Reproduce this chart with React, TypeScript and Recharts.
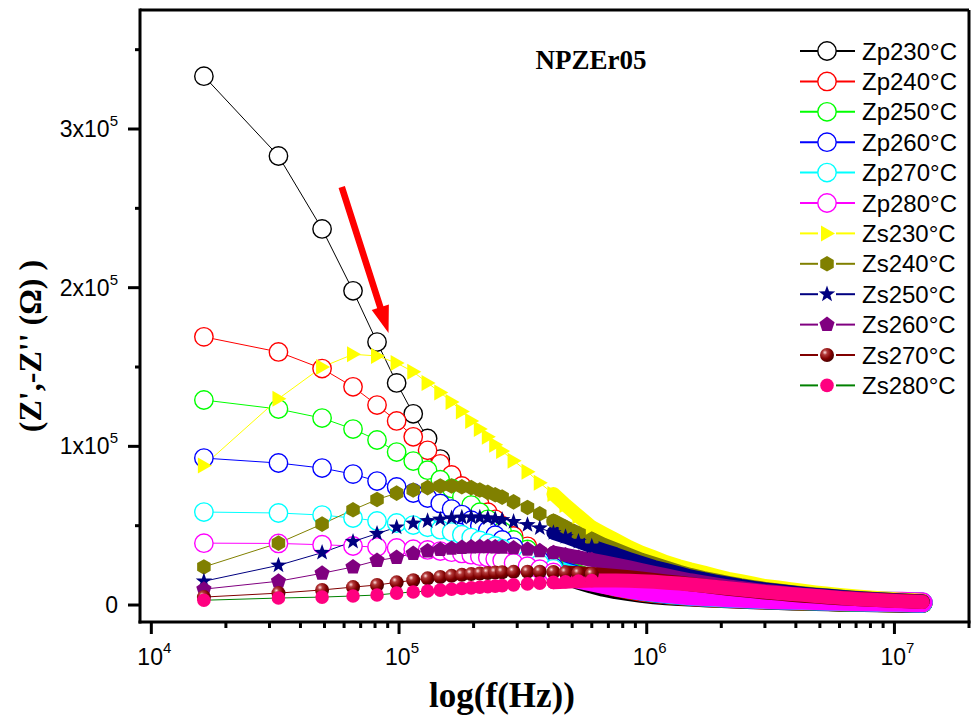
import React from "react";
import { LineChart, Line, XAxis, YAxis, ReferenceLine, Customized } from "recharts";

// frequency (Hz) and impedance values in units of 1e5 Ohm
const FREQ = [
  16300, 32600, 48900, 65200, 81500, 97800, 114100, 130400, 146700, 163000, 179300, 195600, 211900, 228200, 244500, 260800,
  290000, 330000, 370000, 420000, 470000, 530000, 600000, 670000, 750000, 850000, 950000,
  1.07e6, 1.2e6, 1.35e6, 1.5e6, 1.7e6, 1.9e6, 2.13e6, 2.4e6, 2.7e6, 3.0e6, 3.4e6, 3.8e6, 4.25e6, 4.8e6, 5.4e6, 6.0e6, 6.7e6, 7.5e6, 8.5e6, 9.5e6,
  1.07e7, 1.2e7, 1.3e7,
];

const ZP230 = [
  3.333, 2.83, 2.37, 1.98, 1.657, 1.4, 1.205, 1.05, 0.92, 0.81, 0.72, 0.64, 0.575, 0.52, 0.47, 0.43,
  0.37, 0.31, 0.265, 0.22, 0.19, 0.16, 0.135, 0.115, 0.1, 0.087, 0.077,
  0.068, 0.062, 0.057, 0.053, 0.049, 0.045, 0.042, 0.039, 0.036, 0.034, 0.031, 0.029, 0.027, 0.025, 0.023, 0.021, 0.02, 0.019, 0.017, 0.016,
  0.015, 0.014, 0.013,
];
const ZP240 = [
  1.69, 1.595, 1.49, 1.375, 1.26, 1.16, 1.06, 0.975, 0.89, 0.82, 0.75, 0.69, 0.635, 0.585, 0.54, 0.5,
  0.435, 0.37, 0.315, 0.265, 0.225, 0.19, 0.16, 0.135, 0.115, 0.098, 0.085,
  0.075, 0.067, 0.061, 0.056, 0.051, 0.047, 0.044, 0.041, 0.038, 0.035, 0.033, 0.031, 0.029, 0.027, 0.025, 0.023, 0.022, 0.02, 0.019, 0.018,
  0.016, 0.015, 0.014,
];
const ZP250 = [
  1.292, 1.235, 1.178, 1.109, 1.04, 0.964, 0.907, 0.85, 0.79, 0.735, 0.68, 0.63, 0.585, 0.54, 0.5, 0.465,
  0.41, 0.35, 0.3, 0.255, 0.22, 0.19, 0.163, 0.14, 0.12, 0.103, 0.09,
  0.079, 0.07, 0.063, 0.058, 0.053, 0.049, 0.045, 0.042, 0.039, 0.036, 0.034, 0.032, 0.03, 0.028, 0.026, 0.024, 0.022, 0.021, 0.019, 0.018,
  0.017, 0.015, 0.014,
];
const ZP260 = [
  0.926, 0.895, 0.863, 0.825, 0.781, 0.744, 0.706, 0.674, 0.64, 0.605, 0.57, 0.535, 0.5, 0.47, 0.44, 0.41,
  0.365, 0.32, 0.28, 0.24, 0.21, 0.182, 0.158, 0.138, 0.12, 0.104, 0.091,
  0.08, 0.071, 0.064, 0.059, 0.054, 0.05, 0.046, 0.043, 0.04, 0.037, 0.035, 0.033, 0.031, 0.029, 0.027, 0.025, 0.023, 0.022, 0.02, 0.019,
  0.018, 0.016, 0.015,
];
const ZP270 = [
  0.586, 0.58, 0.567, 0.548, 0.53, 0.517, 0.504, 0.49, 0.475, 0.46, 0.443, 0.425, 0.407, 0.39, 0.372, 0.355,
  0.325, 0.29, 0.26, 0.228, 0.2, 0.176, 0.155, 0.137, 0.12, 0.105, 0.093,
  0.082, 0.073, 0.066, 0.06, 0.055, 0.051, 0.047, 0.044, 0.041, 0.038, 0.036, 0.034, 0.032, 0.03, 0.028, 0.026, 0.024, 0.023, 0.021, 0.02,
  0.019, 0.017, 0.016,
];
const ZP280 = [
  0.39, 0.388, 0.38, 0.372, 0.365, 0.36, 0.352, 0.347, 0.34, 0.333, 0.325, 0.317, 0.308, 0.299, 0.29, 0.281,
  0.265, 0.245, 0.226, 0.205, 0.185, 0.166, 0.148, 0.133, 0.118, 0.104, 0.093,
  0.083, 0.075, 0.068, 0.062, 0.057, 0.053, 0.049, 0.046, 0.043, 0.04, 0.037, 0.035, 0.033, 0.031, 0.029, 0.027, 0.025, 0.024, 0.022, 0.021,
  0.02, 0.018, 0.017,
];
const ZS230 = [
  0.88, 1.3, 1.5, 1.58, 1.57, 1.525, 1.47, 1.4, 1.34, 1.28, 1.22, 1.16, 1.11, 1.06, 1.01, 0.97,
  0.91, 0.84, 0.77, 0.7, 0.63, 0.56, 0.49, 0.45, 0.41, 0.365, 0.33,
  0.3, 0.27, 0.245, 0.225, 0.205, 0.185, 0.165, 0.15, 0.135, 0.12, 0.11, 0.1, 0.09, 0.08, 0.072, 0.064, 0.057, 0.05, 0.044, 0.039,
  0.034, 0.03, 0.027,
];
const ZS240 = [
  0.24, 0.39, 0.51, 0.6, 0.665, 0.705, 0.725, 0.74, 0.75, 0.75, 0.745, 0.74, 0.725, 0.71, 0.695, 0.68,
  0.65, 0.615, 0.575, 0.53, 0.49, 0.45, 0.415, 0.38, 0.35, 0.315, 0.285,
  0.26, 0.235, 0.21, 0.19, 0.17, 0.155, 0.14, 0.125, 0.113, 0.102, 0.092, 0.083, 0.075, 0.067, 0.06, 0.054, 0.048, 0.043, 0.038, 0.034,
  0.03, 0.026, 0.024,
];
const ZS250 = [
  0.15, 0.25, 0.33, 0.4, 0.45, 0.49, 0.515, 0.53, 0.54, 0.548, 0.552, 0.553, 0.552, 0.548, 0.543, 0.537,
  0.525, 0.505, 0.485, 0.455, 0.43, 0.4, 0.37, 0.345, 0.32, 0.29, 0.265,
  0.24, 0.22, 0.2, 0.18, 0.163, 0.148, 0.134, 0.12, 0.108, 0.098, 0.088, 0.08, 0.072, 0.064, 0.058, 0.052, 0.046, 0.041, 0.037, 0.033,
  0.029, 0.025, 0.023,
];
const ZS260 = [
  0.1, 0.15, 0.2, 0.24, 0.28, 0.3, 0.325, 0.34, 0.35, 0.357, 0.362, 0.365, 0.367, 0.367, 0.366, 0.364,
  0.36, 0.352, 0.342, 0.33, 0.316, 0.3, 0.285, 0.27, 0.255, 0.237, 0.22,
  0.203, 0.187, 0.17, 0.156, 0.142, 0.13, 0.118, 0.107, 0.097, 0.088, 0.08, 0.072, 0.065, 0.058, 0.052, 0.047, 0.042, 0.038, 0.034, 0.03,
  0.027, 0.024, 0.022,
];
const ZS270 = [
  0.05, 0.075, 0.095, 0.113, 0.126, 0.143, 0.156, 0.168, 0.177, 0.184, 0.19, 0.195, 0.199, 0.202, 0.205, 0.207,
  0.209, 0.21, 0.21, 0.208, 0.205, 0.2, 0.195, 0.19, 0.183, 0.175, 0.167,
  0.158, 0.149, 0.14, 0.131, 0.121, 0.112, 0.103, 0.094, 0.086, 0.079, 0.072, 0.065, 0.059, 0.053, 0.048, 0.043, 0.039, 0.035, 0.031, 0.028,
  0.025, 0.022, 0.02,
];
const ZS280 = [
  0.03, 0.044, 0.05, 0.057, 0.063, 0.075, 0.082, 0.088, 0.094, 0.099, 0.104, 0.108, 0.112, 0.116, 0.119, 0.122,
  0.127, 0.133, 0.138, 0.143, 0.147, 0.151, 0.154, 0.155, 0.155, 0.153, 0.15,
  0.146, 0.141, 0.135, 0.129, 0.121, 0.114, 0.106, 0.098, 0.09, 0.083, 0.076, 0.07, 0.064, 0.057, 0.05, 0.045, 0.04, 0.035, 0.031, 0.027,
  0.024, 0.021, 0.019,
];

const X_MAJOR = [1e4, 1e5, 1e6, 1e7];
const X_TICKS = [
  1e4, 2e4, 3e4, 4e4, 5e4, 6e4, 7e4, 8e4, 9e4,
  1e5, 2e5, 3e5, 4e5, 5e5, 6e5, 7e5, 8e5, 9e5,
  1e6, 2e6, 3e6, 4e6, 5e6, 6e6, 7e6, 8e6, 9e6,
  1e7, 2e7,
];
const Y_TICKS = [0, 50000, 100000, 150000, 200000, 250000, 300000, 350000];

type MarkerType = "circle" | "triangle" | "hexagon" | "star" | "pentagon" | "sphere" | "dot";

const SERIES: { key: string; name: string; values: number[]; color: string; line: string; marker: MarkerType }[] = [
  { key: "zp230", name: "Zp230°C", values: ZP230, color: "#000000", line: "#000000", marker: "circle" },
  { key: "zp240", name: "Zp240°C", values: ZP240, color: "#FF0000", line: "#FF0000", marker: "circle" },
  { key: "zp250", name: "Zp250°C", values: ZP250, color: "#00FF00", line: "#00FF00", marker: "circle" },
  { key: "zp260", name: "Zp260°C", values: ZP260, color: "#0000FF", line: "#0000FF", marker: "circle" },
  { key: "zp270", name: "Zp270°C", values: ZP270, color: "#00FFFF", line: "#00FFFF", marker: "circle" },
  { key: "zp280", name: "Zp280°C", values: ZP280, color: "#FF00FF", line: "#FF00FF", marker: "circle" },
  { key: "zs230", name: "Zs230°C", values: ZS230, color: "#FFFF00", line: "#FFFF00", marker: "triangle" },
  { key: "zs240", name: "Zs240°C", values: ZS240, color: "#808000", line: "#808000", marker: "hexagon" },
  { key: "zs250", name: "Zs250°C", values: ZS250, color: "#000080", line: "#000080", marker: "star" },
  { key: "zs260", name: "Zs260°C", values: ZS260, color: "#800080", line: "#800080", marker: "pentagon" },
  { key: "zs270", name: "Zs270°C", values: ZS270, color: "#800000", line: "#800000", marker: "sphere" },
  { key: "zs280", name: "Zs280°C", values: ZS280, color: "#FF0080", line: "#008000", marker: "dot" },
];

// above these frequencies the points are so close that the symbols merge into a solid band
const BAND_FROM = 420000;
const OPEN_DOTS_TO = 420000;
const FILLED_DOTS_TO = 600000;

const rows = FREQ.map((f, i) => {
  const row: Record<string, number | null> = { f };
  SERIES.forEach((s) => {
    const v = s.values[i] * 1e5;
    const dotsTo = s.marker === "circle" ? OPEN_DOTS_TO : FILLED_DOTS_TO;
    row[s.key] = f <= dotsTo ? v : null;
    row[s.key + "Band"] = f >= BAND_FROM ? v : null;
  });
  return row;
});

const SANS = "'Liberation Sans', Arial, sans-serif";
const SERIF = "'Liberation Serif', 'Times New Roman', serif";

function poly(cx: number, cy: number, n: number, r: number, start: number, inner?: number) {
  const pts: string[] = [];
  const count = inner ? n * 2 : n;
  for (let k = 0; k < count; k++) {
    const a = start + (k * 2 * Math.PI) / count;
    const rr = inner && k % 2 === 1 ? inner : r;
    pts.push(`${(cx + rr * Math.cos(a)).toFixed(2)},${(cy + rr * Math.sin(a)).toFixed(2)}`);
  }
  return pts.join(" ");
}

function Marker({ type, cx, cy, color }: { type: MarkerType; cx: number; cy: number; color: string }) {
  switch (type) {
    case "circle":
      return <circle cx={cx} cy={cy} r={9.2} fill="#fff" stroke={color} strokeWidth={1.4} />;
    case "triangle":
      return <polygon points={`${cx + 8},${cy} ${cx - 6},${cy - 8} ${cx - 6},${cy + 8}`} fill={color} />;
    case "hexagon":
      return <polygon points={poly(cx, cy, 6, 7.8, -Math.PI / 2)} fill={color} />;
    case "star":
      return <polygon points={poly(cx, cy, 5, 8.6, -Math.PI / 2, 3.5)} fill={color} />;
    case "pentagon":
      return <polygon points={poly(cx, cy, 5, 8, -Math.PI / 2)} fill={color} />;
    case "sphere":
      return <circle cx={cx} cy={cy} r={7} fill="url(#sphereGrad)" />;
    default:
      return <circle cx={cx} cy={cy} r={6.8} fill={color} />;
  }
}

function XTick(props: any) {
  const { x, y, payload } = props;
  const v = payload.value;
  const major = X_MAJOR.includes(v);
  return (
    <g>
      <line x1={x} x2={x} y1={y} y2={y + (major ? 12 : 6)} stroke="#000" strokeWidth={3} />
      {major && (
        <text x={x + 3} y={y + 43} textAnchor="middle" fontFamily={SANS} fontSize={23} fill="#000">
          10
          <tspan dy={-12} fontSize={15}>
            {Math.round(Math.log10(v))}
          </tspan>
        </text>
      )}
    </g>
  );
}

function YTick(props: any) {
  const { x, y, payload } = props;
  const v = payload.value;
  const major = v % 100000 === 0;
  return (
    <g>
      <line x1={x - (major ? 12 : 5)} x2={x} y1={y} y2={y} stroke="#000" strokeWidth={3} />
      {major && (
        <text x={x - 22} y={y + 8} textAnchor="end" fontFamily={SANS} fontSize={23} fill="#000">
          {v === 0 ? (
            "0"
          ) : (
            <>
              {`${v / 100000}x10`}
              <tspan dy={-11} fontSize={15}>
                5
              </tspan>
            </>
          )}
        </text>
      )}
    </g>
  );
}

function Arrow(props: any) {
  const { x1, y1, x2, y2 } = props;
  const dx = x2 - x1;
  const dy = y2 - y1;
  const len = Math.hypot(dx, dy);
  const ux = dx / len;
  const uy = dy / len;
  const nx = -uy;
  const ny = ux;
  const head = 27;
  const half = 9;
  const shaft = 3.3;
  const bx = x2 - ux * head;
  const by = y2 - uy * head;
  const pts = [
    [x1 + nx * shaft, y1 + ny * shaft],
    [bx + nx * shaft, by + ny * shaft],
    [bx + nx * half, by + ny * half],
    [x2, y2],
    [bx - nx * half, by - ny * half],
    [bx - nx * shaft, by - ny * shaft],
    [x1 - nx * shaft, y1 - ny * shaft],
  ]
    .map((p) => p.join(","))
    .join(" ");
  return <polygon points={pts} fill="#FF0000" />;
}

function Texts() {
  return (
    <g>
      <defs>
        <radialGradient id="sphereGrad" cx="35%" cy="32%" r="70%">
          <stop offset="0%" stopColor="#ffe0e0" />
          <stop offset="25%" stopColor="#b33a3a" />
          <stop offset="65%" stopColor="#800000" />
          <stop offset="100%" stopColor="#4a0000" />
        </radialGradient>
      </defs>
      <text x={591} y={69} textAnchor="middle" fontFamily={SERIF} fontWeight="bold" fontSize={27} fill="#000">
        NPZEr05
      </text>
      <text x={502} y={707} textAnchor="middle" fontFamily={SERIF} fontWeight="bold" fontSize={35} fill="#000">
        log(f(Hz))
      </text>
      <text
        x={41}
        y={346}
        transform="rotate(-90 41 346)"
        textAnchor="middle"
        fontFamily={SERIF}
        fontWeight="bold"
        fontSize={32}
        fill="#000"
      >
        (Z',-Z'' (Ω) )
      </text>
    </g>
  );
}

function LegendBox() {
  return (
    <g>
      {SERIES.map((s, i) => {
        const cy = 51 + i * 30.4;
        const mx = 827;
        const open = s.marker === "circle";
        return (
          <g key={s.key}>
            {open ? (
              <line x1={800} x2={855} y1={cy} y2={cy} stroke={s.line} strokeWidth={2} />
            ) : (
              <>
                <line x1={800} x2={818} y1={cy} y2={cy} stroke={s.line} strokeWidth={2} />
                <line x1={836} x2={855} y1={cy} y2={cy} stroke={s.line} strokeWidth={2} />
              </>
            )}
            <Marker type={s.marker} cx={mx} cy={cy} color={s.color} />
            <text x={862} y={cy + 8.6} fontFamily={SANS} fontSize={24} fill="#000">
              {s.name}
            </text>
          </g>
        );
      })}
    </g>
  );
}

export default function App() {
  return (
    <div style={{ position: "absolute", left: 0, top: 0, width: 971, height: 718, background: "#fff" }}>
      <LineChart width={971} height={718} data={rows} margin={{ top: 10, right: 2, bottom: 36, left: 10 }}>
        <XAxis
          dataKey="f"
          type="number"
          scale="log"
          domain={[9000, 2e7]}
          allowDataOverflow
          ticks={X_TICKS}
          interval={0}
          tick={(p: any) => <XTick {...p} />}
          tickLine={false}
          tickSize={0}
          tickMargin={0}
          height={60}
          axisLine={{ stroke: "#000", strokeWidth: 3, strokeLinecap: "square" }}
        />
        <YAxis
          type="number"
          domain={[-10700, 375000]}
          allowDataOverflow
          ticks={Y_TICKS}
          interval={0}
          tick={(p: any) => <YTick {...p} />}
          tickLine={false}
          tickSize={0}
          tickMargin={0}
          width={130}
          axisLine={{ stroke: "#000", strokeWidth: 3, strokeLinecap: "square" }}
        />
        <ReferenceLine y={375000} stroke="#000" strokeWidth={3} ifOverflow="visible" />
        <ReferenceLine x={2e7} stroke="#000" strokeWidth={3} ifOverflow="visible" />
        {SERIES.flatMap((s) => [
          <Line
            key={s.key + "Band"}
            dataKey={s.key + "Band"}
            type="linear"
            stroke={s.color}
            strokeWidth={s.marker === "circle" ? 20 : 14}
            strokeLinecap="round"
            strokeLinejoin="round"
            dot={false}
            activeDot={false}
            legendType="none"
            isAnimationActive={false}
          />,
          <Line
            key={s.key}
            dataKey={s.key}
            name={s.name}
            type="linear"
            stroke={s.line}
            strokeWidth={1}
            activeDot={false}
            isAnimationActive={false}
            dot={(p: any) =>
              p.cy == null || p.cx == null ? (
                <g key={s.key + "-" + p.index} />
              ) : (
                <g key={s.key + "-" + p.index}>
                  <Marker type={s.marker} cx={p.cx} cy={p.cy} color={s.color} />
                </g>
              )
            }
          />,
        ])}
        <ReferenceLine
          segment={[
            { x: 58700, y: 263400 },
            { x: 90700, y: 171400 },
          ]}
          ifOverflow="visible"
          shape={(p: any) => <Arrow {...p} />}
        />
        <Customized component={Texts} />
        <Customized component={LegendBox} />
      </LineChart>
    </div>
  );
}
